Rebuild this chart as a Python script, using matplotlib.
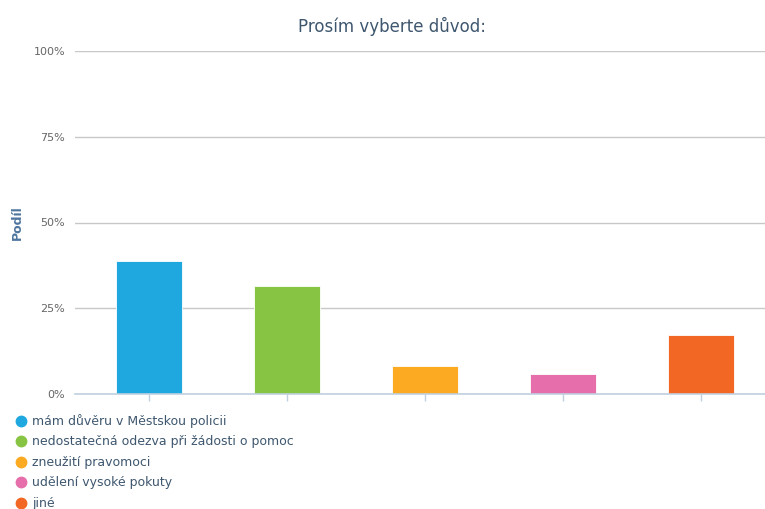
import matplotlib.pyplot as plt
from matplotlib.lines import Line2D
import numpy as np

# data
categories = ['mám důvěru v Městskou policii',
              'nedostatečná odezva při žádosti o pomoc',
              'zneužití pravomoci',
              'udělení vysoké pokuty',
              'jiné']
values = [38.8, 31.5, 8.2, 5.8, 17.2]
colors = ['#1fa8e0', '#88c443', '#fbaa22', '#e66eab', '#f26723']
yticks = [0, 25, 50, 75, 100]
ytick_labels = ['0%', '25%', '50%', '75%', '100%']

plt.rcParams['font.family'] = ['DejaVu Sans']

fig = plt.figure(figsize=(7.65, 5.09), dpi=100)
ax = fig.add_axes([75/765, 115/509, 690/765, 343/509])

x = np.arange(len(values))
ax.bar(x, values, width=0.48, color=colors, edgecolor='#ffffff', linewidth=0.6, zorder=3)

ax.set_xlim(-0.534, 4.466)
ax.set_ylim(0, 100)
ax.set_yticks(yticks)
ax.set_yticklabels(ytick_labels, color='#666666', fontsize=8)
ax.set_xticks(x)
ax.set_xticklabels([])
ax.tick_params(axis='y', length=0, pad=7)
ax.tick_params(axis='x', length=5, color='#c0d0e0', width=1)

ax.grid(axis='y', color='#c8c8c8', linewidth=1, zorder=0)
for s in ['top', 'right', 'left']:
    ax.spines[s].set_visible(False)
ax.spines['bottom'].set_color('#c0d0e0')
ax.spines['bottom'].set_linewidth(1.2)
ax.spines['bottom'].set_zorder(4)

ax.set_ylabel('Podíl', color='#4d759e', fontweight='bold', fontsize=9)
ax.yaxis.set_label_coords(-0.074, 0.5)

fig.text(392/765, 1 - 26/509, 'Prosím vyberte důvod:', ha='center', va='center',
         fontsize=12, color='#3e576f')

handles = [Line2D([], [], marker='o', linestyle='none', markersize=7.5,
                  markerfacecolor=c, markeredgecolor=c) for c in colors]
fig.legend(handles, categories, loc='upper left', bbox_to_anchor=(15/765, 1 - 414/509),
           frameon=False, fontsize=9, labelcolor='#3e576f', handletextpad=0.35,
           labelspacing=0.6, handlelength=1.0, borderaxespad=0, borderpad=0)

plt.savefig('out.png', dpi=100)
